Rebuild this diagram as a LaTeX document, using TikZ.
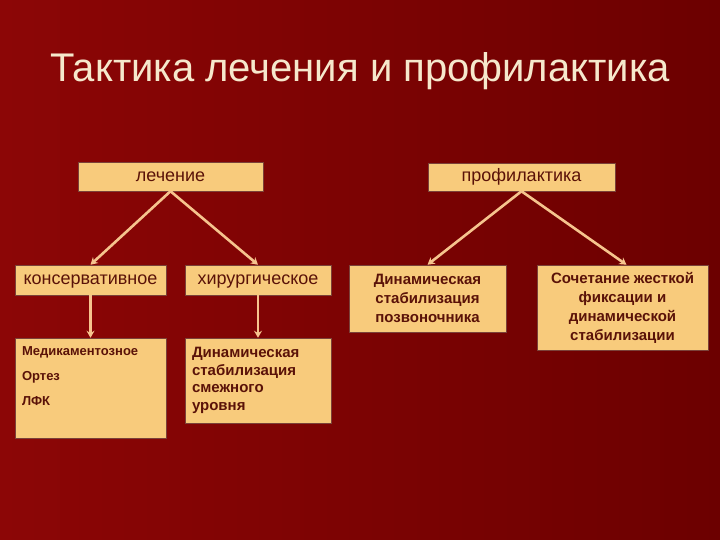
\documentclass[tikz,border=0pt]{standalone}
\usepackage{fontspec}
\setmainfont{Liberation Sans}
\usetikzlibrary{arrows.meta,positioning,calc}
\definecolor{slidelight}{HTML}{8C0606}
\definecolor{slidedark}{HTML}{6C0000}
\definecolor{boxfill}{HTML}{F8CB7C}
\definecolor{boxtext}{HTML}{5A1208}
\definecolor{arrowpeach}{HTML}{F6C48E}
\definecolor{titlecream}{HTML}{F6E8CC}

\begin{document}
\begin{tikzpicture}[x=1pt,y=1pt,
  box/.style={draw=boxtext!80,line width=0.5pt,fill=boxfill,text=boxtext,inner sep=0pt,font=\fontsize{18}{20}\selectfont},
  onebox/.style={box,text height=9.4pt,text depth=0pt},
  bbox/.style={box,align=center,font=\bfseries\fontsize{15}{19}\selectfont},
  arr/.style={-{Stealth[length=7pt,width=8pt]},line width=2.6pt,arrowpeach}]
  % slide background
  \useasboundingbox (0,0) rectangle (720,540);
  \shade[left color=slidelight,right color=slidedark] (0,0) rectangle (720,540);
  \node[anchor=base,text=titlecream,font=\fontsize{40}{48}\selectfont] (title) at (360,458) {Тактика лечения и профилактика};
  % top level
  \node[onebox,minimum width=185pt,minimum height=29pt] (lech) at (170.5,363.5) {лечение};
  \node[onebox,minimum width=187pt,minimum height=28pt] (prof) at (521.5,363) {профилактика};
  % second level
  \node[onebox,minimum width=151pt,minimum height=30pt] (kons) at (90.5,260) {консервативное};
  \node[onebox,minimum width=146pt,minimum height=30pt] (hir) at (258,260) {хирургическое};
  \node[bbox,minimum width=157pt,minimum height=67pt] (dyn) at (427.5,241.5) {Динамическая\\стабилизация\\позвоночника};
  \node[bbox,minimum width=171pt,minimum height=85pt] (soch) at (622.5,232.5) {Сочетание жесткой\\фиксации и\\динамической\\стабилизации};
  % third level
  \node[box,inner xsep=7pt,font=\bfseries\fontsize{13}{25}\selectfont] (med) at (90.5,152)
    {\parbox[c][100pt][t]{137pt}{\vspace*{9pt}Медикаментозное\\Ортез\\ЛФК}};
  \node[bbox,align=left,text width=132pt,inner xsep=7pt,minimum height=85pt,font=\bfseries\fontsize{15}{17.7}\selectfont] (dynsm) at (258,159.5) {Динамическая\\стабилизация\\смежного\\уровня};
  % connectors
  \draw[arr] (lech.south) -- (kons.north);
  \draw[arr] (lech.south) -- (hir.north);
  \draw[arr] (prof.south) -- (dyn.north);
  \draw[arr] (prof.south) -- ($(soch.north)+(4,0)$);
  \draw[arr] (kons) -- (med);
  \draw[arr] (hir) -- (dynsm);
\end{tikzpicture}
\end{document}
